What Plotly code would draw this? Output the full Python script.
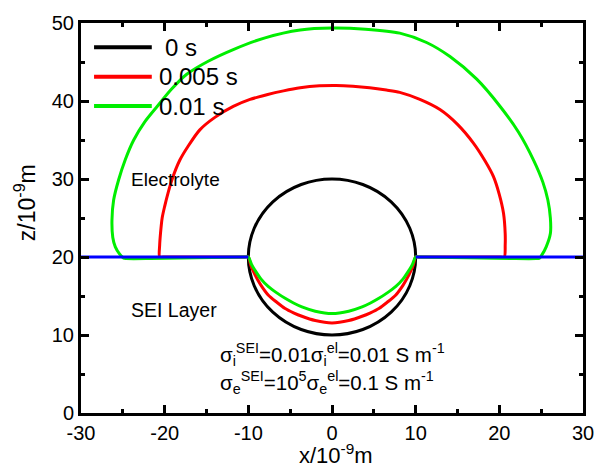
import plotly.graph_objects as go

# Interface contours at successive times (x, z in units of 1e-9 m)
TIMES = ["0 s", "0.005 s", "0.01 s"]
COLORS = ["#000000", "#ff0000", "#00ee00"]

# Initial particle: circle centred on the SEI/electrolyte interface
CIRCLE_CENTER = (0.0, 20.0)
CIRCLE_RADIUS = 10.0

RED_X = [-20.6, -20.6, -20.5, -20.3, -20.0, -19.6, -19.1, -18.2, -17.2, -15.8, -14.0, -11.8,
         -9.8, -7.8, -5.8, -3.8, -1.5, 0.5, 2.5, 4.5, 6.5, 8.1, 10.5, 12.9, 15.0, 16.9, 18.3,
         19.3, 20.0, 20.5, 20.7, 20.7, 20.6, 20.2, 10.4, 10.0, 9.7, 9.2, 8.5, 7.6, 6.6, 5.6, 4.6,
         3.6, 2.0, 0.0, -2.0, -3.6, -4.6, -5.6, -6.6, -7.6, -8.5, -9.2, -9.7, -10.0, -10.4, -20.2, -20.6]
RED_Y = [20.0, 21.5, 23.0, 25.0, 26.5, 28.2, 30.0, 32.4, 34.2, 36.3, 37.9, 39.3,
         40.2, 40.8, 41.3, 41.7, 41.95, 42.0, 41.9, 41.7, 41.4, 41.1, 40.2, 38.9, 37.0, 34.6, 32.3,
         30.3, 28.0, 25.6, 23.0, 21.5, 20.0, 20.0, 20.0, 20.0, 18.9, 17.7, 16.4, 15.1, 14.2, 13.4, 12.85,
         12.4, 11.85, 11.55, 11.85, 12.4, 12.85, 13.4, 14.2, 15.1, 16.4, 17.7, 18.9, 20.0, 20.0, 20.0, 20.0]

GREEN_X = [-21.7, -24.6, -24.9, -25.4, -25.9, -26.2, -26.3, -26.1, -25.5, -24.7, -23.7, -22.4, -20.9,
           -19.2, -17.4, -14.8, -11.8, -8.0, -3.8, 0.0, 4.0, 8.1, 11.3, 14.1, 17.3, 20.1, 22.3,
           24.1, 25.2, 25.8, 26.1, 26.1, 25.6, 25.05, 24.8, 24.4, 21.7, 10.4, 10.0, 9.6, 9.2, 8.5, 7.6,
           6.6, 5.6, 4.6, 3.6, 2.0, 0.0, -2.0, -3.6, -4.6, -5.6, -6.6, -7.6, -8.5, -9.2, -9.6, -10.0,
           -10.4, -21.7]
GREEN_Y = [19.8, 19.8, 19.85, 20.4, 21.3, 22.5, 24.7, 27.3, 29.9, 32.5, 35.0, 37.3, 39.3,
           41.5, 43.4, 45.1, 46.6, 48.1, 49.1, 49.35, 49.2, 48.7, 47.5, 45.7, 42.8, 39.3, 36.0,
           32.4, 29.6, 27.3, 25.0, 23.0, 21.3, 20.2, 19.85, 19.8, 19.8, 20.0, 20.0, 19.0, 18.3, 17.2, 16.2,
           15.4, 14.7, 14.1, 13.6, 13.05, 12.75, 13.05, 13.6, 14.1, 14.7, 15.4, 16.2, 17.2, 18.3, 19.0, 20.0,
           20.0, 19.8]

# SEI / electrolyte boundary on either side of the particle
SEI_X = [-30, -10, None, 10, 30]
SEI_Y = [20, 20, None, 20, 20]

X_TICKS = [-30, -20, -10, 0, 10, 20, 30]
X_TICKTEXT = ["-30", "-20", "-10", "0", "10", "20", "30"]
Y_TICKS = [0, 10, 20, 30, 40, 50]
Y_TICKTEXT = ["0", "10", "20", "30", "40", "50"]

FONT = "Liberation Sans, Arial, sans-serif"
LW = 3

fig = go.Figure()

cx, cy = CIRCLE_CENTER
fig.add_shape(type="circle", xref="x", yref="y",
              x0=cx - CIRCLE_RADIUS, x1=cx + CIRCLE_RADIUS,
              y0=cy - CIRCLE_RADIUS, y1=cy + CIRCLE_RADIUS,
              line=dict(color=COLORS[0], width=LW), layer="below")

fig.add_trace(go.Scatter(x=RED_X, y=RED_Y, mode="lines", name=TIMES[1],
                         line=dict(color=COLORS[1], width=LW, shape="spline", smoothing=0.8),
                         showlegend=False))
fig.add_trace(go.Scatter(x=GREEN_X, y=GREEN_Y, mode="lines", name=TIMES[2],
                         line=dict(color=COLORS[2], width=LW, shape="spline", smoothing=0.8),
                         showlegend=False))
fig.add_trace(go.Scatter(x=SEI_X, y=SEI_Y, mode="lines", name="SEI boundary",
                         line=dict(color="#0000ff", width=LW), showlegend=False))

# Legend drawn as line samples with labels in the upper-left corner
legend_y = [0.938, 0.862, 0.787]
label_x = [0.163, 0.151, 0.151]
for lab, col, ly, lx in zip(TIMES, COLORS, legend_y, label_x):
    fig.add_shape(type="line", xref="paper", yref="paper", x0=0.026, x1=0.141, y0=ly, y1=ly,
                  line=dict(color=col, width=4))
    fig.add_annotation(xref="paper", yref="paper", x=lx, y=ly, text=lab, showarrow=False,
                       xanchor="left", yanchor="middle", font=dict(size=24, color="black", family=FONT))

fig.add_annotation(x=-18.7, y=29.9, text="Electrolyte", showarrow=False,
                   font=dict(size=19, color="black", family=FONT))
fig.add_annotation(x=-18.9, y=13.2, text="SEI Layer", showarrow=False,
                   font=dict(size=19.5, color="black", family=FONT))
fig.add_annotation(x=-13.6, y=7.5, xanchor="left", yanchor="middle", showarrow=False,
                   text="σ<sub>i</sub><sup>SEI</sup>=0.01σ<sub>i</sub><sup>el</sup>=0.01 S m<sup>-1</sup>",
                   font=dict(size=20.5, color="black", family=FONT))
fig.add_annotation(x=-13.6, y=3.9, xanchor="left", yanchor="middle", showarrow=False,
                   text="σ<sub>e</sub><sup>SEI</sup>=10<sup>5</sup>σ<sub>e</sub><sup>el</sup>=0.1 S m<sup>-1</sup>",
                   font=dict(size=20.5, color="black", family=FONT))

# Axis titles
fig.add_annotation(xref="paper", yref="paper", x=0.508, y=-0.106, yanchor="middle",
                   text="x/10<sup>-9</sup>m", showarrow=False, borderpad=0,
                   font=dict(size=22, color="black", family=FONT))
fig.add_annotation(xref="paper", yref="paper", x=-0.11, y=0.54, xanchor="center", yanchor="middle",
                   text="z/10<sup>-9</sup>m", showarrow=False, textangle=-90,
                   font=dict(size=23, color="black", family=FONT))

axis_common = dict(showline=True, linewidth=LW, linecolor="black", mirror="allticks",
                   ticks="inside", ticklen=8, tickwidth=2.5, tickcolor="black",
                   showgrid=False, zeroline=False, automargin=False,
                   tickfont=dict(size=20, color="black", family=FONT),
                   minor=dict(ticks="inside", ticklen=4, tickwidth=2.5, tickcolor="black", dtick=5))

fig.update_xaxes(range=[-30, 30], tickvals=X_TICKS, ticktext=X_TICKTEXT, **axis_common)
fig.update_yaxes(range=[0, 50], tickvals=Y_TICKS, ticktext=Y_TICKTEXT, **axis_common)

fig.update_layout(width=597, height=467,
                  margin=dict(l=81, r=14, t=23, b=54, autoexpand=False),
                  paper_bgcolor="white", plot_bgcolor="white")

fig.write_html("out.html")
